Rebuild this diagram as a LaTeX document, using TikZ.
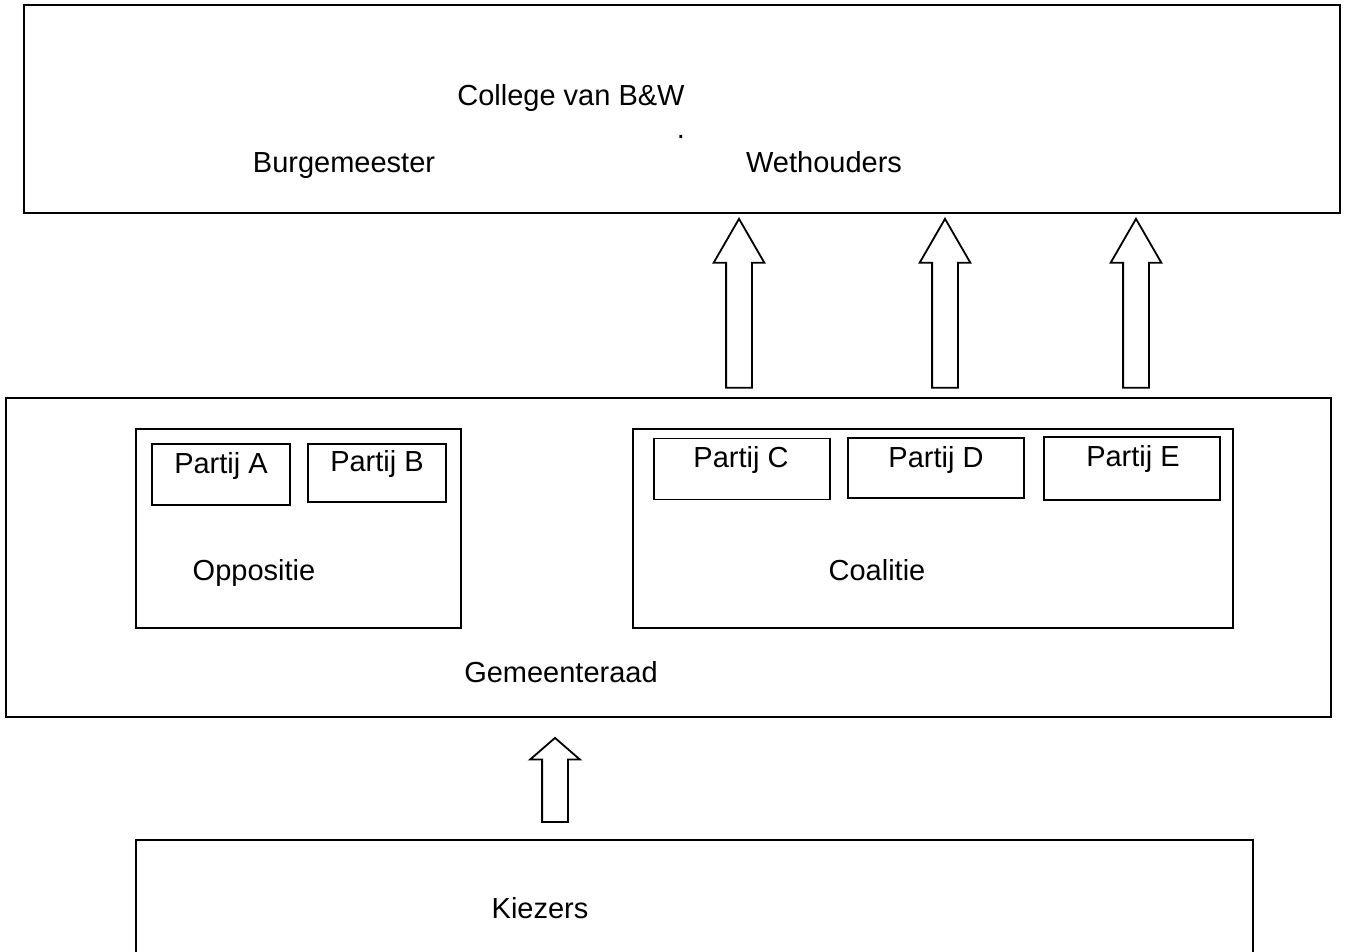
\documentclass[tikz,border=0pt]{standalone}
\usepackage{fontspec}
\setmainfont{Liberation Sans}
\usetikzlibrary{shapes.arrows}

\begin{document}
\begin{tikzpicture}[x=1pt,y=-1pt,
	box/.style 2 args={draw,line width=1.8pt,inner sep=0pt,minimum width=#1,minimum height=#2},
	partij/.style={box={176pt}{61pt},line width=1.2pt},
	lbl/.style={anchor=base,inner sep=0pt,font=\fontsize{29}{34}\selectfont},
	uparrow/.style={single arrow,draw,line width=1.8pt,shape border rotate=90,inner sep=12pt,
		single arrow head extend=12.5pt}]
\useasboundingbox (0,0) rectangle (1346,951);
\clip (0,0) rectangle (1346,951);

% college
\node[box={1316pt}{208pt}] (college) at (682,109) {};
\node[lbl] (collegetxt) at (571,105) {College van B\&W};
\node[lbl] (dot) at (681,138) {.};
\node[lbl] (burgemeester) at (344,172) {Burgemeester};
\node[lbl] (wethouders) at (824,172) {Wethouders};

% gemeenteraad
\node[box={1325pt}{319pt}] (raad) at (668.5,557.5) {};
\node[lbl] (raadtxt) at (561,682) {Gemeenteraad};
\node[box={325pt}{199pt}] (oppositie) at (298.5,528.5) {};
\node[lbl] (oppositietxt) at (254,580) {Oppositie};
\node[box={600pt}{199pt}] (coalitie) at (933,528.5) {};
\node[lbl] (coalitietxt) at (877,580) {Coalitie};

% partijen
\node[partij,minimum width=138pt] (pA) at (221,474.5) {};
\node[lbl] at (221,473) {Partij A};
\node[partij,minimum width=138pt,minimum height=58pt] (pB) at (377,473) {};
\node[lbl] at (377,471) {Partij B};
\node[partij] (pC) at (742,469) {};
\node[lbl] at (741,467) {Partij C};
\node[partij,minimum height=60pt] (pD) at (936,468) {};
\node[lbl] at (936,467) {Partij D};
\node[partij,minimum height=63pt] (pE) at (1132,468.5) {};
\node[lbl] at (1133,466) {Partij E};

% kiezers
\node[box={1117pt}{160pt}] (kiezers) at (694.5,920) {};
\node[lbl] (kiezerstxt) at (540,918) {Kiezers};

% pijlen
\foreach \px/\nm in {739/w1,945/w2,1136/w3}
	\node[uparrow,minimum height=169pt,single arrow tip angle=60] (\nm) at (\px,314.5) {};
\node[uparrow,single arrow head extend=12pt,minimum height=84pt,single arrow tip angle=98] (stem) at (555,785.5) {};
\end{tikzpicture}
\end{document}
